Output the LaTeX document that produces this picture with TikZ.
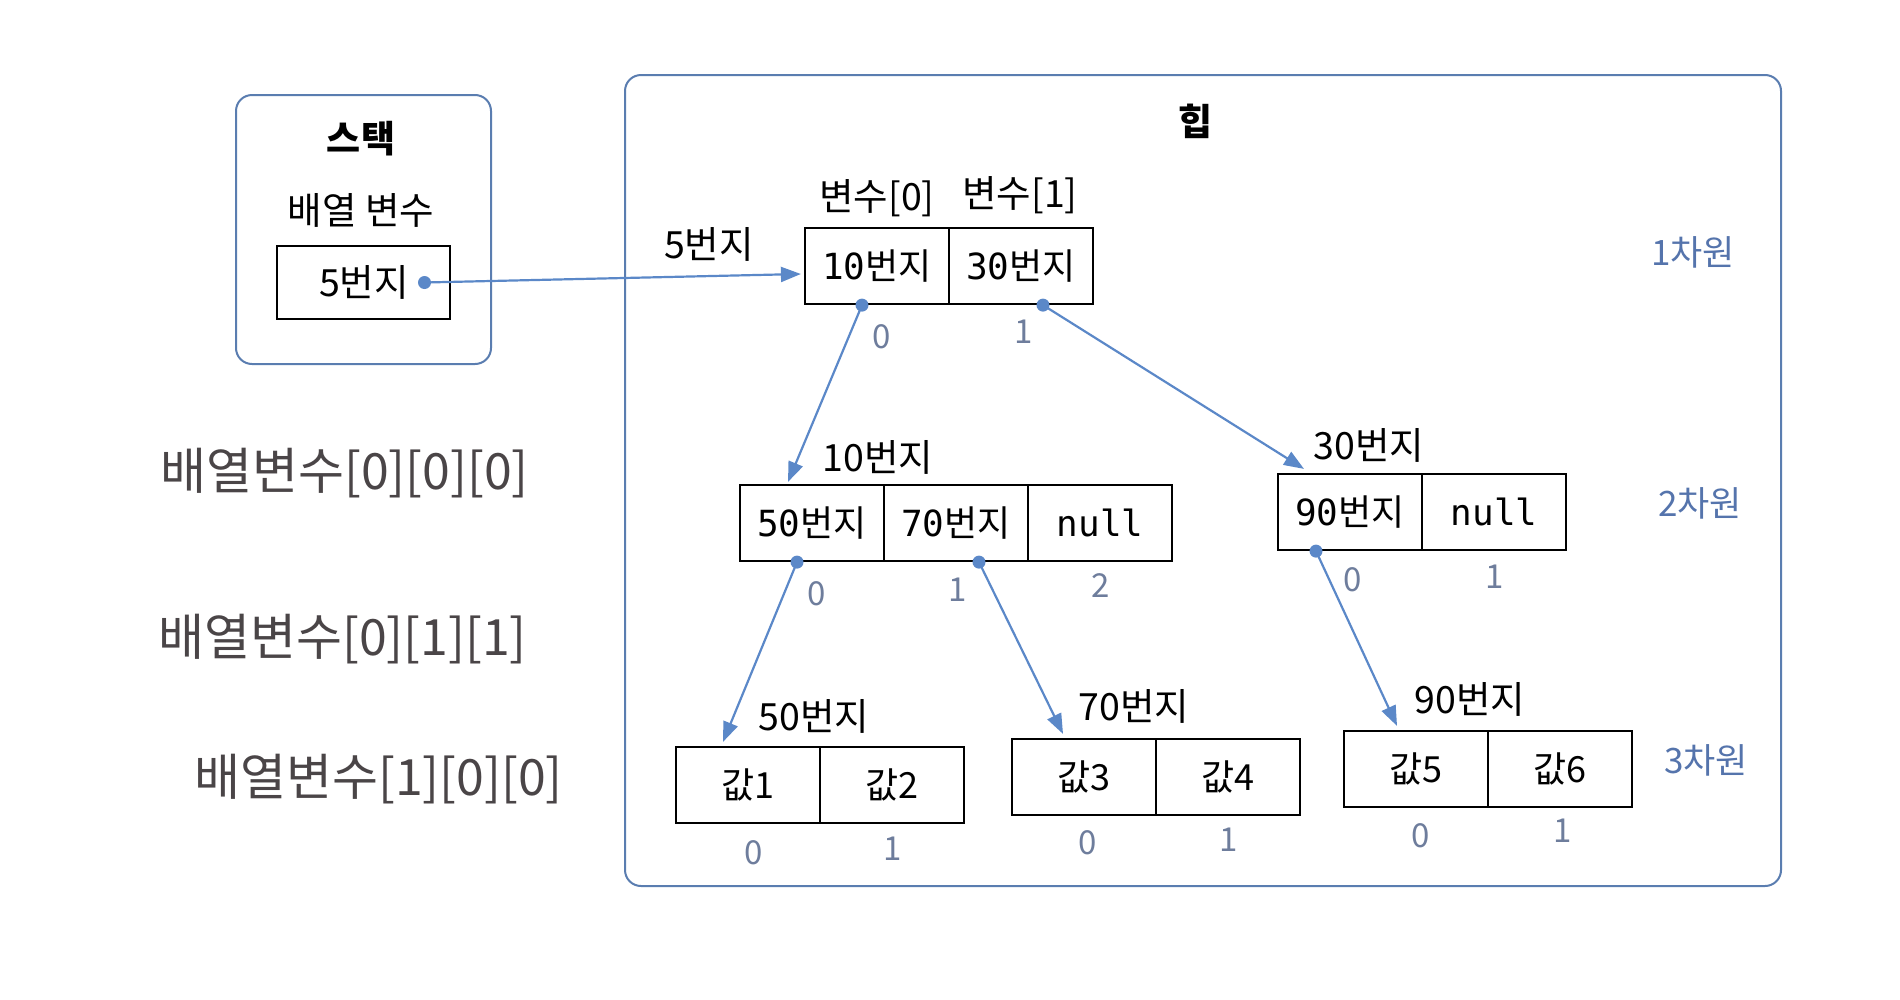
\documentclass[tikz,border=0pt]{standalone}
\usepackage{fontspec}
\setmainfont{Noto Sans CJK KR}
\newfontfamily\monofnt{DejaVu Sans Mono}
\usetikzlibrary{arrows.meta,calc}
\definecolor{arrowblue}{HTML}{5B88C8}
\definecolor{panelblue}{HTML}{5A7DB0}
\definecolor{idxgray}{HTML}{6E7D9C}
\definecolor{dimblue}{HTML}{5574AC}
\definecolor{labelgray}{HTML}{4A4547}
\begin{document}
\begin{tikzpicture}[x=1pt,y=-1pt,
  cellbox/.style={draw=black, line width=2.2pt, minimum width=144pt, minimum height=76pt, inner sep=0pt, font=\fontsize{36}{40}\selectfont},
  addr/.style={font=\fontsize{37.5}{42}\selectfont, inner sep=0pt},
  idx/.style={text=idxgray, font=\fontsize{33}{38}\selectfont, inner sep=0pt},
  dimlab/.style={text=dimblue, font=\fontsize{35}{40}\selectfont, inner sep=0pt},
  leftlab/.style={text=labelgray, font=\fontsize{50}{54}\selectfont, anchor=west, inner sep=0pt},
  panel/.style={draw=panelblue, line width=2pt, rounded corners=16pt, inner sep=0pt},
  conn/.style={draw=arrowblue, line width=2.2pt, -{Triangle[length=20pt,width=15pt]}},
  dotst/.style={circle, fill=arrowblue, minimum size=13pt, inner sep=0pt},
  title/.style={font=\fontsize{37}{40}\selectfont\bfseries, inner sep=0pt}]
\useasboundingbox (0,0) rectangle (1900,999);

% panels
\node[panel, minimum width=255pt, minimum height=269pt] (stack) at (363.5,229.5) {};
\node[panel, minimum width=1156pt, minimum height=811pt] (heap) at (1203,480.5) {};
\node[title] (stacktitle) at (361,139) {스택};
\node[title] (heaptitle) at (1196,121) {힙};
\node[addr] (varname) at (361,210) {배열 변수};

% stack variable
\node[cellbox, minimum width=173pt, minimum height=73pt] (sv) at (363.5,282.5) {};
\node[addr] (svtext) at (364,282) {5번지};
\node[dotst] (ds) at ([xshift=61pt]sv.center) {};

% level 1
\node[cellbox] (c10) at (877,266) {{\monofnt 10}번지};
\node[cellbox] (c30) at (1021,266) {{\monofnt 30}번지};
\node[addr] (v0) at (877,198) {변수[0]};
\node[addr] (v1lab) at (1020,195) {변수[1]};
\node[addr] (a5) at (709,244) {5번지};
\node[idx] (i10) at (882,337) {0};
\node[idx] (i11) at (1024,332) {1};
\node[dimlab] (dim1) at (1693,252) {1차원};

% level 2 left
\node[cellbox] (c50) at (812,523) {{\monofnt 50}번지};
\node[cellbox] (c70) at (956,523) {{\monofnt 70}번지};
\node[cellbox] (cn1) at (1100,523) {\monofnt null};
\node[addr] (a10) at (878,457) {10번지};
\node[idx] (i20) at (817,594) {0};
\node[idx] (i21) at (958,590) {1};
\node[idx] (i22) at (1101,586) {2};

% level 2 right
\node[cellbox] (c90) at (1350,512) {{\monofnt 90}번지};
\node[cellbox] (cn2) at (1494,512) {\monofnt null};
\node[addr] (a30) at (1369,445) {30번지};
\node[idx] (i30) at (1353,580) {0};
\node[idx] (i31) at (1495,577) {1};
\node[dimlab] (dim2) at (1700,503) {2차원};

% level 3
\node[cellbox] (w1) at (748,785) {값1};
\node[cellbox] (w2) at (892,785) {값2};
\node[cellbox] (w3) at (1084,777) {값3};
\node[cellbox] (w4) at (1228,777) {값4};
\node[cellbox] (w5) at (1416,769) {값5};
\node[cellbox] (w6) at (1560,769) {값6};
\node[addr] (a50) at (814,716) {50번지};
\node[addr] (a70) at (1134,706) {70번지};
\node[addr] (a90) at (1470,699) {90번지};
\node[idx] (j1) at (754,853) {0};
\node[idx] (j2) at (893,849) {1};
\node[idx] (j3) at (1088,843) {0};
\node[idx] (j4) at (1229,840) {1};
\node[idx] (j5) at (1421,836) {0};
\node[idx] (j6) at (1563,831) {1};
\node[dimlab] (dim3) at (1706,760) {3차원};

% left labels
\node[leftlab] (l1) at (160,473) {배열변수[0][0][0]};
\node[leftlab] (l2) at (158,639) {배열변수[0][1][1]};
\node[leftlab] (l3) at (194,779) {배열변수[1][0][0]};

% dots
\node[dotst] (d10) at ([xshift=-15pt]c10.south) {};
\node[dotst] (d30) at ([xshift=22pt]c30.south) {};
\node[dotst] (d50) at ([xshift=-15pt]c50.south) {};
\node[dotst] (d70) at ([xshift=23pt]c70.south) {};
\node[dotst] (d90) at ([xshift=-34pt]c90.south) {};

% connectors
\draw[conn] (ds.center) -- ([yshift=-8pt,xshift=-3pt]c10.west);
\draw[conn] (d10.center) -- ([xshift=-24pt,yshift=2pt]c50.north);
\draw[conn] (d30.center) -- ([xshift=-46pt,yshift=4pt]c90.north);
\draw[conn] (d50.center) -- ([xshift=-25pt,yshift=4pt]w1.north);
\draw[conn] (d70.center) -- ([xshift=-21pt,yshift=4pt]w3.north);
\draw[conn] (d90.center) -- ([xshift=-19pt,yshift=4pt]w5.north);
\end{tikzpicture}
\end{document}
